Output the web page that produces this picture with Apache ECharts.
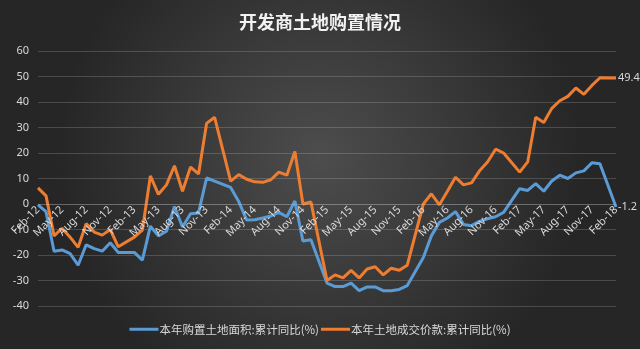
<!DOCTYPE html>
<html>
<head>
<meta charset="utf-8">
<script src="https://cdn.jsdelivr.net/npm/echarts@6/dist/echarts.min.js"></script>
<style>
html,body{margin:0;padding:0;background:#333;}
#chart{width:640px;height:349px;}
</style>
</head>
<body>
<div id="chart"></div>
<script>
const titleText = '开发商土地购置情况';
const seriesNames = ['本年购置土地面积:累计同比(%)', '本年土地成交价款:累计同比(%)'];
const categories = [
  'Feb-12','Mar-12','Apr-12','May-12','Jun-12','Jul-12','Aug-12','Sep-12','Oct-12','Nov-12','Dec-12',
  'Jan-13','Feb-13','Mar-13','Apr-13','May-13','Jun-13','Jul-13','Aug-13','Sep-13','Oct-13','Nov-13','Dec-13',
  'Jan-14','Feb-14','Mar-14','Apr-14','May-14','Jun-14','Jul-14','Aug-14','Sep-14','Oct-14','Nov-14','Dec-14',
  'Jan-15','Feb-15','Mar-15','Apr-15','May-15','Jun-15','Jul-15','Aug-15','Sep-15','Oct-15','Nov-15','Dec-15',
  'Jan-16','Feb-16','Mar-16','Apr-16','May-16','Jun-16','Jul-16','Aug-16','Sep-16','Oct-16','Nov-16','Dec-16',
  'Jan-17','Feb-17','Mar-17','Apr-17','May-17','Jun-17','Jul-17','Aug-17','Sep-17','Oct-17','Nov-17','Dec-17',
  'Jan-18','Feb-18'
];
// 本年购置土地面积:累计同比(%)
const landArea = [
  -0.3, -3, -18.5, -18, -19.5, -24, -16, -17.5, -18.5, -15.2, -19,
  null, -19, -22, -8.7, -12.5, -10.7, -1, -9, -3.8, -3.5, 10.2, 9,
  null, 6.5, 1, -6.3, -6.2, -5.5, -4.7, -3.3, -5, 1.2, -14.5, -14,
  null, -31, -32.4, -32.4, -31, -34, -32.5, -32.5, -34, -34, -33.5, -32,
  null, -21, -12.5, -7.2, -5.5, -3, -8, -8.5, -6.8, -5.8, -5, -3.3,
  null, 6, 5.3, 8, 5, 9, 11.3, 10, 12.2, 13, 16.2, 15.8,
  null, -1.2
];
// 本年土地成交价款:累计同比(%)
const landPrice = [
  6.3, 3.2, -12.5, -9.5, -13, -17, -7.7, -11, -12.2, -10, -16.8,
  null, -13, -10.2, 11, 3.8, 7.5, 15, 5, 14.5, 11.8, 31.6, 34,
  null, 9, 11.5, 9.7, 8.7, 8.5, 9.5, 12.5, 11.3, 20.6, 0, 0.8,
  null, -30, -27.8, -29, -26, -29, -25.5, -24.6, -27.8, -25.2, -26, -24,
  null, 0, 4, -0.3, 5, 10.5, 7.5, 8.3, 13, 16.5, 21.5, 20,
  null, 12.5, 16.5, 34, 32, 37.5, 40.5, 42.2, 45.5, 43, 46.5, 49.5,
  null, 49.4
];
const yMin = -40, yMax = 60, yStep = 10;

const gridTop = 51, gridBottom = 43, chartH = 349;
const plotH = chartH - gridTop - gridBottom;
const zeroOffset = -plotH * (0 - yMin) / (yMax - yMin);

const chart = echarts.init(document.getElementById('chart'));
const txt = '#d9d9d9';
const gridColor = 'rgba(255,255,255,0.17)';
chart.setOption({
  backgroundColor: {
    type: 'radial', x: 0.5, y: 0.45, r: 0.75,
    colorStops: [{offset: 0, color: '#4d4d4d'}, {offset: 1, color: '#262626'}]
  },
  animation: false,
  title: {
    text: titleText, left: 'center', top: 8,
    textStyle: {color: '#f2f2f2', fontSize: 18, fontWeight: 'bold', fontFamily: 'Noto Sans CJK SC'}
  },
  legend: {
    bottom: 9, left: 'center', itemWidth: 29, itemHeight: 3, itemGap: 2, icon: 'rect',
    textStyle: {color: txt, fontSize: 11.5, fontFamily: 'Noto Sans CJK SC', padding: [0,0,0,-4]},
    data: seriesNames
  },
  grid: {left: 38, right: 24, top: gridTop, bottom: gridBottom, containLabel: false},
  xAxis: {
    type: 'category', data: categories, boundaryGap: false,
    position: 'bottom', offset: zeroOffset, z: 10,
    axisLine: {onZero: false, lineStyle: {color: gridColor}},
    axisTick: {show: false},
    axisLabel: {interval: 2, rotate: 45, color: txt, fontSize: 11, fontFamily: 'Noto Sans', margin: 4}
  },
  yAxis: {
    type: 'value', min: yMin, max: yMax, interval: yStep,
    axisLine: {show: false}, axisTick: {show: false},
    axisLabel: {color: txt, fontSize: 11, fontFamily: 'Noto Sans', margin: 9},
    splitLine: {lineStyle: {color: gridColor}}
  },
  series: [
    {
      name: seriesNames[0], type: 'line', data: landArea, connectNulls: true,
      showSymbol: false, symbol: 'none', color: '#5b9bd5', z: 2,
      lineStyle: {width: 3, color: '#5b9bd5'},
      endLabel: {show: true, formatter: p => p.value, color: txt, fontSize: 11, fontFamily: 'Noto Sans', distance: 2}
    },
    {
      name: seriesNames[1], type: 'line', data: landPrice, connectNulls: true,
      showSymbol: false, symbol: 'none', color: '#ed7d31', z: 2,
      lineStyle: {width: 3, color: '#ed7d31'},
      endLabel: {show: true, formatter: p => p.value, color: txt, fontSize: 11, fontFamily: 'Noto Sans', distance: 2}
    }
  ]
});
</script>
</body>
</html>
